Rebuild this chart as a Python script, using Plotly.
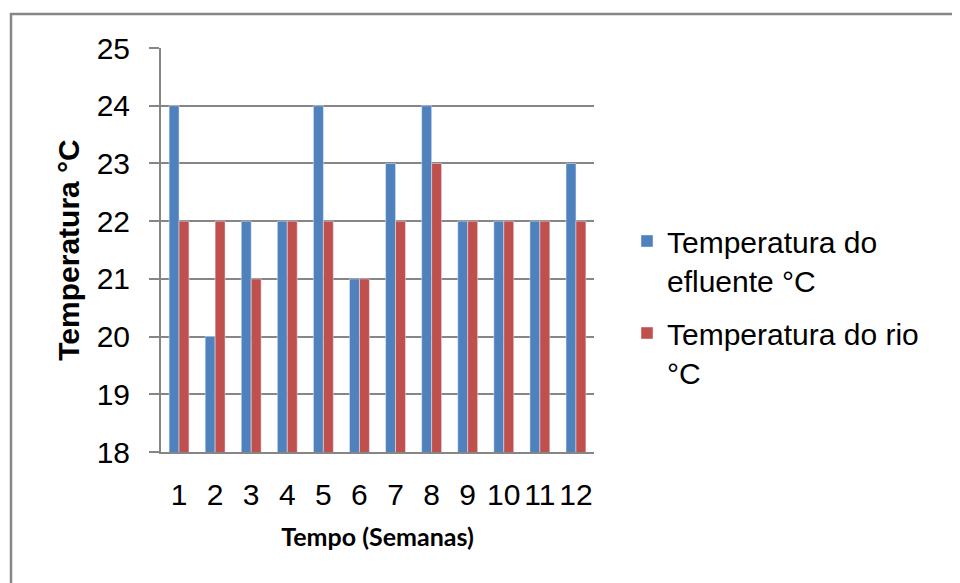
import plotly.graph_objects as go

semanas = ["1", "2", "3", "4", "5", "6", "7", "8", "9", "10", "11", "12"]
efluente = [24, 20, 22, 22, 24, 21, 23, 24, 22, 22, 22, 23]
rio = [22, 22, 21, 22, 22, 21, 22, 23, 22, 22, 22, 22]
nome_efluente = "Temperatura do<br>efluente °C"
nome_rio = "Temperatura do rio<br>°C"

OFF = 8  # page body margin
W, H = 960, 583
L, R, T, B = 161 - OFF, 594 - OFF, 48 - OFF, 452 - OFF
pw, ph = R - L, B - T

def px(x):
    return (x - OFF - L) / pw

def py(y):
    return (B - (y - OFF)) / ph

grid = "#868686"

fig = go.Figure()
fig.add_trace(go.Bar(x=semanas, y=efluente, name=nome_efluente, marker_color="#4F81BD", legendgroup="a"))
fig.add_trace(go.Bar(x=semanas, y=rio, name=nome_rio, marker_color="#C0504D", legendgroup="b"))

fig.update_layout(
    width=W, height=H,
    margin=dict(l=L, r=W - R, t=T, b=H - B),
    paper_bgcolor="white", plot_bgcolor="white",
    barmode="group", bargap=0.45, bargroupgap=0,
    font=dict(family="Liberation Sans, Arial", color="black"),
    legend=dict(
        x=px(627), y=py(215), xanchor="left", yanchor="top",
        font=dict(size=30, family="Liberation Sans, Arial"),
        traceorder="grouped", tracegroupgap=11, itemwidth=30, valign="top",
    ),
    xaxis=dict(
        showgrid=False, showline=True, linecolor=grid, linewidth=2,
        ticks="", tickfont=dict(size=30), ticklabelstandoff=15,
        title=dict(text="<b>Tempo (Semanas)</b>", font=dict(size=25, family="Lato, Open Sans"), standoff=18),
    ),
    yaxis=dict(
        range=[18, 25], dtick=1, showgrid=True, gridcolor=grid, gridwidth=2,
        showline=True, linecolor=grid, linewidth=2,
        ticks="outside", ticklen=10, tickcolor=grid, tickwidth=2,
        tickfont=dict(size=30), ticklabelstandoff=13,
        title=dict(text="<b>Temperatura °C</b>", font=dict(size=30), standoff=8),
        zeroline=False,
    ),
    shapes=[dict(
        type="rect", xref="paper", yref="paper",
        x0=px(11), y0=py(640), x1=px(1000), y1=py(14),
        line=dict(color=grid, width=2.5), layer="below",
    )],
)

fig.write_html("out.html")
